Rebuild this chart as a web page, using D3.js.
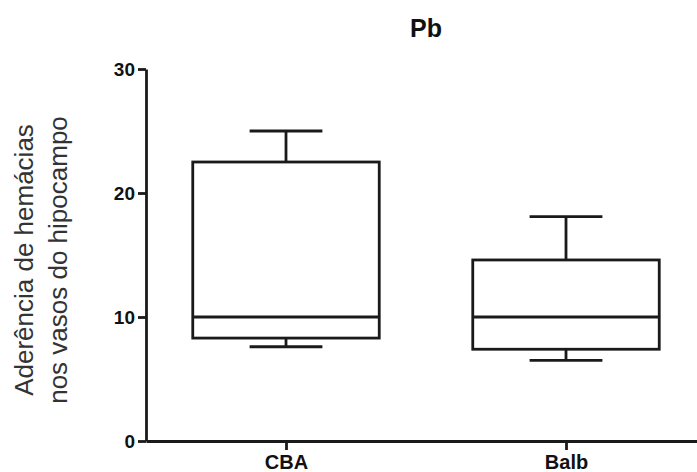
<!DOCTYPE html>
<html>
<head>
<meta charset="utf-8">
<script src="https://cdn.jsdelivr.net/npm/d3@7"></script>
<style>
  body { margin: 0; background: #fff; }
  svg { display: block; }
</style>
</head>
<body>
<svg id="chart"></svg>
<script>
// Data
const groups = ["CBA", "Balb"];
const whiskerLow = [7.6, 6.5];
const q1 = [8.3, 7.4];
const median = [10, 10];
const q3 = [22.5, 14.6];
const whiskerHigh = [25, 18.1];
const yTicks = [0, 10, 20, 30];

const boxes = groups.map((g, i) => ({
  group: g,
  lo: whiskerLow[i],
  q1: q1[i],
  med: median[i],
  q3: q3[i],
  hi: whiskerHigh[i],
}));

// Chart Dimensions
const width = 697;
const height = 472;
const margin = { left: 146, right: -9, top: 69, bottom: 31 };

const svg = d3.select("#chart").attr("width", width).attr("height", height);

// Scales
const x = d3
  .scalePoint()
  .domain(groups)
  .range([margin.left, width - margin.right])
  .padding(0.5);

const y = d3
  .scaleLinear()
  .domain([0, 30])
  .range([height - margin.bottom, margin.top]);

const step = x.step();
const boxHalf = step * 0.333;
const capHalf = step * 0.13;
const stroke = "#1a1a1a";
const lw = 2.8;

// Axes
const yAxis = svg
  .append("g")
  .attr("transform", `translate(${margin.left},0)`)
  .call(d3.axisLeft(y).tickValues(yTicks).tickSize(8).tickPadding(3).tickSizeOuter(0));

const xAxis = svg
  .append("g")
  .attr("transform", `translate(0,${y(0)})`)
  .call(d3.axisBottom(x).tickSize(9).tickPadding(5).tickSizeOuter(0));

[yAxis, xAxis].forEach((a) => {
  a.selectAll("path, line").attr("stroke", stroke).attr("stroke-width", lw);
  a.selectAll("text")
    .attr("fill", "#111")
    .style("font-family", "'Liberation Sans', Arial, sans-serif")
    .style("font-weight", "bold");
});
yAxis.selectAll("text").style("font-size", "19px").attr("dy", "0.36em");
xAxis.selectAll("text").style("font-size", "20px").attr("dy", "0.72em");

// Boxes
const box = svg
  .selectAll(".box")
  .data(boxes)
  .enter()
  .append("g")
  .attr("class", "box")
  .attr("fill", "none")
  .attr("stroke", stroke)
  .attr("stroke-width", lw);

// whisker lines
box
  .append("line")
  .attr("x1", (d) => x(d.group))
  .attr("x2", (d) => x(d.group))
  .attr("y1", (d) => y(d.hi))
  .attr("y2", (d) => y(d.q3));
box
  .append("line")
  .attr("x1", (d) => x(d.group))
  .attr("x2", (d) => x(d.group))
  .attr("y1", (d) => y(d.q1))
  .attr("y2", (d) => y(d.lo));

// caps
box
  .append("line")
  .attr("x1", (d) => x(d.group) - capHalf)
  .attr("x2", (d) => x(d.group) + capHalf)
  .attr("y1", (d) => y(d.hi))
  .attr("y2", (d) => y(d.hi));
box
  .append("line")
  .attr("x1", (d) => x(d.group) - capHalf)
  .attr("x2", (d) => x(d.group) + capHalf)
  .attr("y1", (d) => y(d.lo))
  .attr("y2", (d) => y(d.lo));

// box rect
box
  .append("rect")
  .attr("x", (d) => x(d.group) - boxHalf)
  .attr("width", boxHalf * 2)
  .attr("y", (d) => y(d.q3))
  .attr("height", (d) => y(d.q1) - y(d.q3))
  .attr("fill", "#fff");

// median
box
  .append("line")
  .attr("x1", (d) => x(d.group) - boxHalf)
  .attr("x2", (d) => x(d.group) + boxHalf)
  .attr("y1", (d) => y(d.med))
  .attr("y2", (d) => y(d.med));

// Title
svg
  .append("text")
  .attr("x", (margin.left + width - margin.right) / 2)
  .attr("y", 37)
  .attr("text-anchor", "middle")
  .attr("fill", "#111")
  .style("font-family", "'Liberation Sans', Arial, sans-serif")
  .style("font-weight", "bold")
  .style("font-size", "25px")
  .text("Pb");

// Y label
const yLabel = svg
  .append("text")
  .attr("transform", `translate(0,${(y(0) + y(30)) / 2 + 5}) rotate(-90)`)
  .attr("text-anchor", "middle")
  .attr("fill", "#333")
  .style("font-family", "'Liberation Sans', Arial, sans-serif")
  .style("font-size", "26px");

yLabel.append("tspan").attr("x", 0).attr("y", 33).text("Aderência de hemácias");
yLabel.append("tspan").attr("x", 0).attr("y", 67).text("nos vasos do hipocampo");
</script>
</body>
</html>
